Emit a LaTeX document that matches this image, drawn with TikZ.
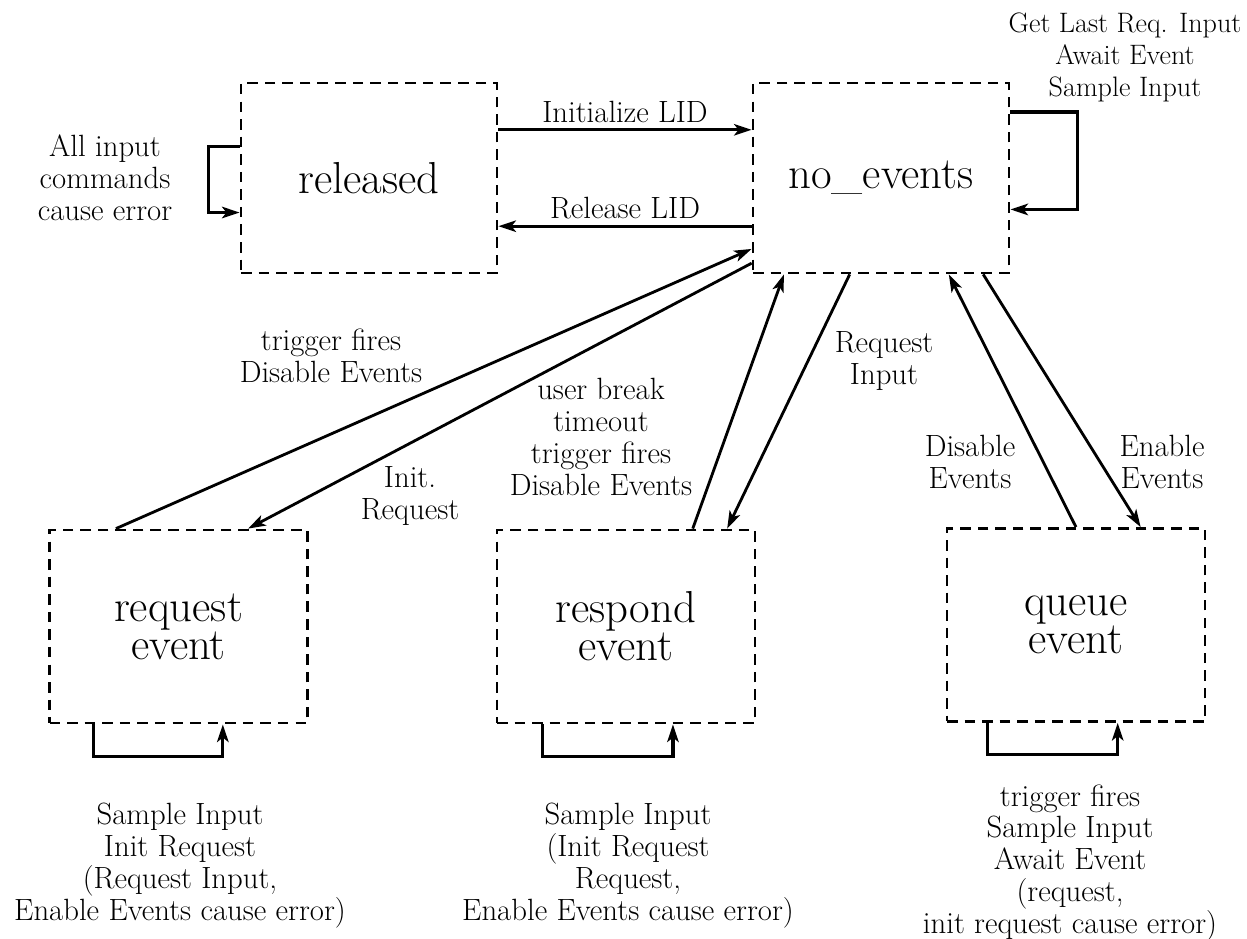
\documentclass[tikz,border=0pt]{standalone}
\usetikzlibrary{calc,arrows.meta}
\begin{document}
\begin{tikzpicture}[x=0.02cm,y=-0.02cm,
  statebox/.style={draw,line width=1.6pt,dash pattern=on 6pt off 4pt,inner sep=0pt,
    align=center,font=\fontsize{25.5}{19}\selectfont},
  topbox/.style={statebox,minimum width=5.12cm,minimum height=3.8cm},
  botbox/.style={statebox,minimum width=5.16cm,minimum height=3.86cm},
  lab/.style={align=center,inner sep=0pt,font=\fontsize{17.5}{18.2}\selectfont},
  arr/.style={line width=1.6pt,-{Stealth[length=10pt,width=6.5pt,inset=2.5pt]}},
  loopline/.style={line width=1.8pt,-{Stealth[length=10pt,width=6.5pt,inset=2.5pt]}}]
\useasboundingbox (0,0) rectangle (1247,939);
% states
\node[topbox] (rel) at (369,178) {released};
\node[topbox] (noev) at (881,178) {no\_events};
\node[botbox] (req) at (178.5,626.5) {request\\event};
\node[botbox] (resp) at (626,626.5) {respond\\event};
\node[botbox] (que) at (1076,625) {queue\\event};
% labels
\node[lab] (lall) at (105,178) {All input\\commands\\cause error};
\node[lab] (linit) at (625,112) {Initialize LID};
\node[lab] (lrel) at (625,208) {Release LID};
\node[lab,font=\fontsize{16}{18.2}\selectfont] (lget) at (1125,57) {Get Last Req. Input\\Await Event\\Sample Input};
\node[lab] (ltrig) at (331,356) {trigger fires\\Disable Events};
\node[lab] (linitreq) at (410,496) {Init.\\Request};
\node[lab] (luser) at (601,437) {user break\\timeout\\trigger fires\\Disable Events};
\node[lab] (lreqin) at (884,361) {Request\\Input};
\node[lab] (ldis) at (970,462) {Disable\\Events};
\node[lab] (lena) at (1162,462) {Enable\\Events};
\node[lab] (lbreq) at (180,866) {Sample Input\\Init Request\\(Request Input,\\Enable Events cause error)};
\node[lab] (lbresp) at (628,866) {Sample Input\\(Init Request\\Request,\\Enable Events cause error)};
\node[lab] (lbque) at (1070,863) {trigger fires\\Sample Input\\Await Event\\(request,\\init request cause error)};
% horizontal connectors
\draw[arr] ($(rel.north east)!0.25!(rel.south east)$) -- ($(noev.north west)!0.25!(noev.south west)$);
\draw[arr] ($(noev.north west)!0.75!(noev.south west)$) -- ($(rel.north east)!0.75!(rel.south east)$);
% self loops
\draw[loopline] ($(rel.north west)!0.337!(rel.south west)$) -- ++(-31,0) |- ($(rel.north west)!0.679!(rel.south west)$);
\draw[loopline] ($(noev.north east)!0.158!(noev.south east)$) -- ++(67,0) |- ($(noev.north east)!0.663!(noev.south east)$);
\draw[loopline] ($(req.south west)!0.175!(req.south east)$) -- ++(0,32) -| ($(req.south west)!0.67!(req.south east)$);
\draw[loopline] ($(resp.south west)!0.18!(resp.south east)$) -- ++(0,32) -| ($(resp.south west)!0.68!(resp.south east)$);
\draw[loopline] ($(que.south west)!0.16!(que.south east)$) -- ++(0,32) -| ($(que.south west)!0.66!(que.south east)$);
% diagonal connectors
\draw[arr] ($(req.north west)!0.26!(req.north east)$) -- ($(noev.north west)!0.868!(noev.south west)$);
\draw[arr] ($(noev.north west)!0.942!(noev.south west)$) -- ($(req.north west)!0.767!(req.north east)$);
\draw[arr] ($(resp.north west)!0.756!(resp.north east)$) -- ($(noev.south west)!0.125!(noev.south east)$);
\draw[arr] ($(noev.south west)!0.379!(noev.south east)$) -- ($(resp.north west)!0.888!(resp.north east)$);
\draw[arr] ($(que.north west)!0.5!(que.north east)$) -- ($(noev.south west)!0.762!(noev.south east)$);
\draw[arr] ($(noev.south west)!0.895!(noev.south east)$) -- ($(que.north west)!0.748!(que.north east)$);
\end{tikzpicture}
\end{document}
